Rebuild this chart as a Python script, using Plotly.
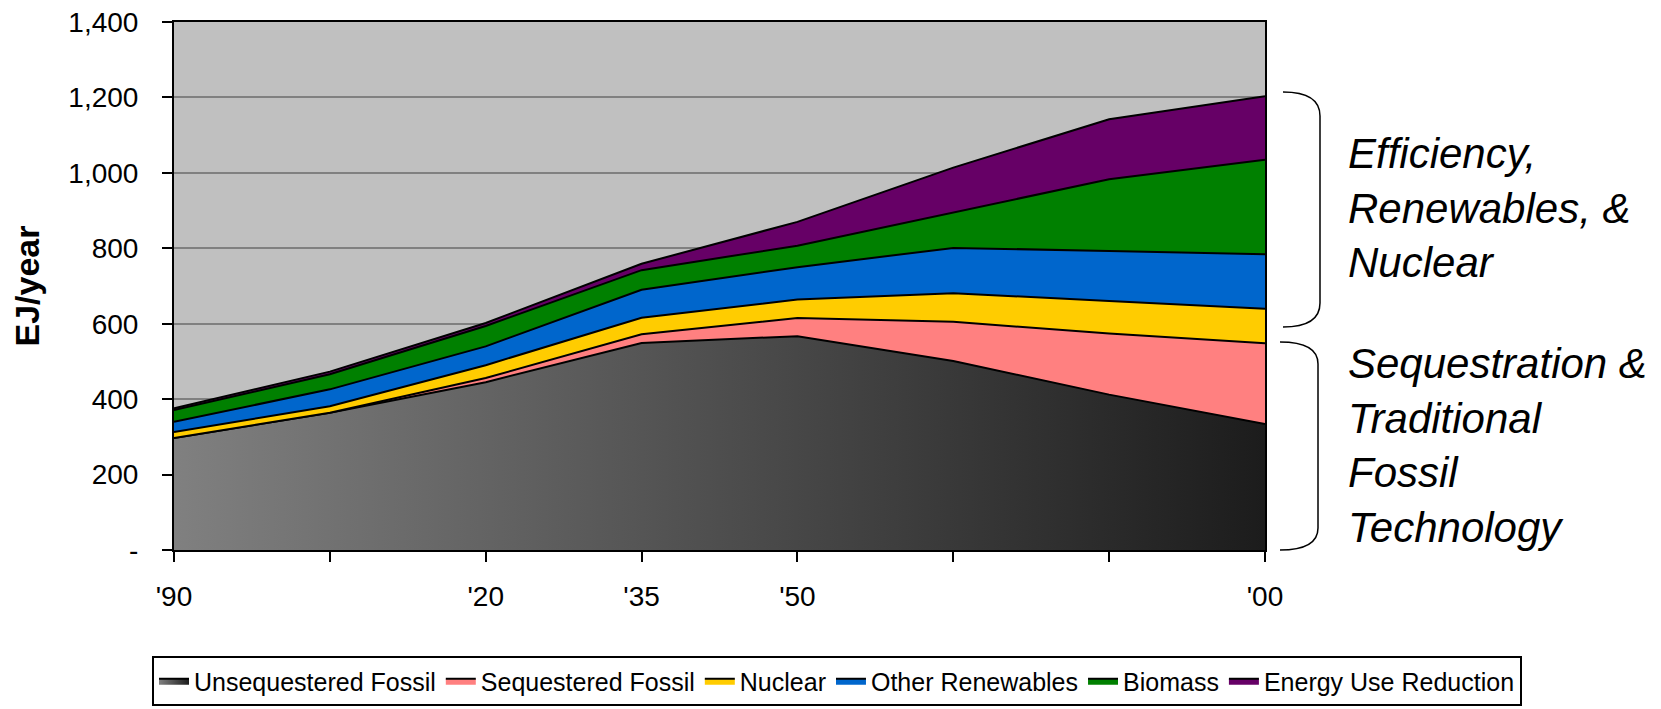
import plotly.graph_objects as go

years = ["1990", "2005", "2020", "2035", "2050", "2065", "2080", "2100"]
tick_labels = ["'90", "", "'20", "'35", "'50", "", "", "'00"]

unsequestered_fossil = [297, 364, 445, 549, 567, 501, 412, 334]
sequestered_fossil = [0, 0, 11, 23, 48, 104, 162, 214]
nuclear = [16, 17, 34, 44, 49, 76, 86, 92]
other_renewables = [27, 45, 50, 74, 86, 120, 133, 144]
biomass = [31, 40, 54, 52, 57, 95, 190, 251]
energy_use_reduction = [5, 7, 8, 17, 63, 118, 159, 168]

y_ticks = [0, 200, 400, 600, 800, 1000, 1200, 1400]
y_tick_text = ["-", "200", "400", "600", "800", "1,000", "1,200", "1,400"]

FONT = "Liberation Sans, Arial, sans-serif"

W, H = 1661, 709
OFF = 8  # page body margin
# plot area in screen pixels
SX0, SX1, SY0, SY1 = 174, 1265, 22, 550
L, T = SX0 - OFF, SY0 - OFF
R, B = W - (SX1 - OFF), H - (SY1 - OFF)
PW, PH = SX1 - SX0, SY1 - SY0


def px2paper(x, y):
    """screen pixel -> paper fraction"""
    return (x - SX0) / PW, (SY1 - y) / PH


fig = go.Figure()

series = [
    ("Unsequestered Fossil", unsequestered_fossil, "#505050"),
    ("Sequestered Fossil", sequestered_fossil, "#FF8080"),
    ("Nuclear", nuclear, "#FFCC00"),
    ("Other Renewables", other_renewables, "#0066CC"),
    ("Biomass", biomass, "#008000"),
    ("Energy Use Reduction", energy_use_reduction, "#660066"),
]

for i, (name, vals, col) in enumerate(series):
    kw = dict(fillcolor=col)
    if i == 0:
        kw = dict(fillgradient=dict(type="horizontal",
                                    colorscale=[[0, "#808080"], [1, "#1C1C1C"]]))
    fig.add_trace(go.Scatter(
        x=years, y=vals, name=name, mode="lines", stackgroup="one",
        line=dict(color="black", width=2), hoverinfo="skip", **kw))


def brace(x0, x1, y0, y1, r):
    pts = [
        ("M", [(x0, y0)]),
        ("C", [(x0 + (x1 - x0) * 0.75, y0), (x1, y0 + r * 0.4), (x1, y0 + r)]),
        ("L", [(x1, y1 - r)]),
        ("C", [(x1, y1 - r * 0.4), (x0 + (x1 - x0) * 0.75, y1), (x0, y1)]),
    ]
    s = ""
    for cmd, ps in pts:
        s += cmd + " " + " ".join("%.5f,%.5f" % px2paper(px, py) for px, py in ps) + " "
    return s.strip()


shapes = [
    dict(type="path", xref="paper", yref="paper",
         path=brace(1283, 1320, 92, 327, 24), line=dict(color="black", width=1.5)),
    dict(type="path", xref="paper", yref="paper",
         path=brace(1280, 1318, 342, 550, 22), line=dict(color="black", width=1.5)),
]

ax1 = px2paper(1346, 208)
ax2 = px2paper(1346, 445)
annotations = [
    dict(xref="paper", yref="paper", x=ax1[0], y=ax1[1], xanchor="left", yanchor="middle",
         text="<i>Efficiency,<br>Renewables, &<br>Nuclear</i>", showarrow=False, align="left",
         font=dict(family=FONT, size=42, color="black")),
    dict(xref="paper", yref="paper", x=ax2[0], y=ax2[1], xanchor="left", yanchor="middle",
         text="<i>Sequestration &<br>Traditional<br>Fossil<br>Technology</i>", showarrow=False,
         align="left", font=dict(family=FONT, size=42, color="black")),
]

leg_x, leg_y = px2paper(1522, 656)

fig.update_layout(
    width=W, height=H,
    margin=dict(l=L, r=R, t=T, b=B, autoexpand=False),
    paper_bgcolor="white", plot_bgcolor="#C0C0C0",
    font=dict(family=FONT, size=28, color="black"),
    showlegend=True,
    legend=dict(orientation="h", x=leg_x, y=leg_y, xanchor="right", yanchor="top",
                bordercolor="black", borderwidth=2, bgcolor="white",
                font=dict(family=FONT, size=25, color="black"),
                traceorder="normal", itemwidth=30, tracegroupgap=0),
    shapes=shapes, annotations=annotations,
    xaxis=dict(type="category", categoryorder="array", categoryarray=years,
               tickvals=years, ticktext=tick_labels, range=[0, 7],
               showgrid=False, zeroline=False, automargin=False,
               showline=True, linecolor="black", linewidth=2, mirror=True,
               ticks="outside", ticklen=10, tickwidth=2, tickcolor="black",
               ticklabelstandoff=10, ticklabeloverflow="allow", tickfont=dict(size=28)),
    yaxis=dict(range=[0, 1400], tickvals=y_ticks, ticktext=y_tick_text,
               showgrid=True, gridcolor="#808080", gridwidth=1.5, zeroline=False,
               automargin=False,
               showline=True, linecolor="black", linewidth=2, mirror=True,
               ticks="outside", ticklen=10, tickwidth=2, tickcolor="black",
               ticklabelstandoff=18, ticklabeloverflow="allow", tickfont=dict(size=28),
               title=dict(text="<b>EJ/year</b>", font=dict(size=34), standoff=22)),
)

fig.write_html("out.html")
